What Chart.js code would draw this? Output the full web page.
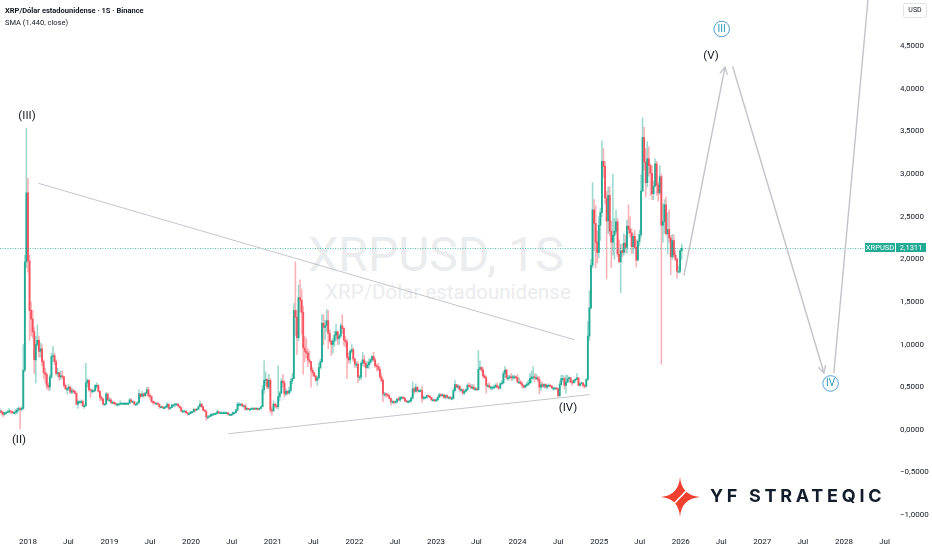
<!DOCTYPE html>
<html>
<head>
<meta charset="utf-8">
<title>XRPUSD 1S</title>
<script src="https://cdn.jsdelivr.net/npm/chart.js@4.4.1/dist/chart.umd.min.js"></script>
<style>
	html, body { margin: 0; padding: 0; background: #fff; }
	#wrap { position: relative; width: 932px; height: 550px; overflow: hidden; font-family: Roboto, "Noto Sans", sans-serif; }
	#chart { position: absolute; left: 0; top: 0; z-index: 2; }
	.wm { position: absolute; left: 0; text-align: center; color: #ebecee; white-space: nowrap; z-index: 1; }
	#wm1 { top: 227px; width: 872px; font-size: 48px; line-height: 56px; }
	#wm2 { top: 280px; width: 896px; font-size: 20.5px; line-height: 24px; }
	.head { position: absolute; left: 5px; font-size: 7.5px; color: #131722; z-index: 3; white-space: nowrap; }
	#head1 { top: 6px; font-weight: 700; }
	#head2 { top: 18px; }
	#logo { position: absolute; left: 660px; top: 476px; width: 240px; height: 42px; z-index: 3; }
	#logo span { position: absolute; left: 50px; top: 9px; font-family: Inter, Roboto, sans-serif; font-weight: 700; font-size: 18px; letter-spacing: 3.7px; color: #131c2b; white-space: nowrap; }
</style>
</head>
<body>
<div id="wrap">
	<div class="wm" id="wm1">XRPUSD, 1S</div>
	<div class="wm" id="wm2">XRP/Dólar estadounidense</div>
	<canvas id="chart" width="932" height="550"></canvas>
	<div class="head" id="head1">XRP/Dólar estadounidense · 1S · Binance</div>
	<div class="head" id="head2">SMA (1.440, close)</div>
	<div id="logo">
		<svg width="46" height="42" viewBox="0 0 46 42">
			<path d="M20,1 Q21.5,19.5 40,21 Q21.5,22.5 20,41 Q18.5,22.5 1,21 Q18.5,19.5 20,1 Z" fill="#f0402f" />
			<line x1="11" y1="31" x2="29" y2="12" stroke="#fff" stroke-width="1.8" />
		</svg>
		<span>YF STRATEQIC</span>
	</div>
</div>

<script>
// weekly candles, first week starts Monday 28 Aug 2017, last one 5 Jan 2026
const firstOpen = 0.21;

const closes = [
	// 2017
	.22, .20, .18, .20, .20, .21, .22, .21, .20, .20, .21, .23, .25, .24, .25, .70, 1.97, 2.78,
	// 2018
	1.98, 1.40, 1.30, 1.15, .82, 1.00, 1.05, .92, .95, .80, .67, .65, .52, .50, .62, .86, .87, .80, .66, .67, .62, .63, .62, .52, .48, .48,
	.50, .44, .46, .45, .43, .30, .33, .33, .33, .28, .28, .55, .58, .47, .46, .46, .46, .52, .52, .45, .38, .36, .30, .30, .42, .35,
	// 2019
	.35, .32, .32, .31, .30, .30, .30, .31, .31, .31, .31, .31, .31, .35, .33, .33, .30, .30, .32, .42, .39, .42, .40, .43, .47, .40,
	.39, .33, .32, .31, .31, .30, .27, .27, .26, .26, .27, .30, .25, .26, .29, .29, .30, .30, .28, .26, .22, .22, .22, .20, .19, .19,
	// 2020
	.21, .21, .24, .23, .24, .27, .30, .27, .23, .22, .15, .15, .16, .18, .18, .19, .19, .21, .20, .20, .20, .20, .20, .20, .18, .18,
	.18, .20, .20, .23, .30, .30, .30, .28, .28, .24, .25, .24, .24, .25, .25, .24, .25, .24, .25, .27, .47, .58, .59, .50, .58, .23,
	// 2021
	.22, .30, .28, .27, .39, .43, .57, .55, .42, .45, .43, .46, .57, .60, 1.40, 1.32, 1.08, 1.55, 1.52, 1.38, .96, .92, .90, .82, .80, .70,
	.67, .63, .58, .61, .73, .80, 1.25, 1.20, 1.22, 1.28, 1.13, 1.04, 1.00, 1.04, 1.11, 1.15, 1.07, 1.10, 1.22, 1.19, 1.05, 1.03, .85, .82, .92, .94,
	// 2022
	.83, .77, .77, .62, .62, .78, .82, .78, .73, .76, .79, .82, .86, .82, .75, .74, .71, .62, .58, .42, .42, .41, .40, .37, .33, .33,
	.32, .33, .36, .35, .38, .38, .37, .34, .33, .33, .34, .37, .48, .45, .50, .46, .46, .46, .37, .38, .38, .40, .39, .38, .35, .35,
	// 2023
	.34, .35, .38, .41, .40, .41, .38, .40, .38, .38, .37, .37, .46, .53, .50, .51, .47, .47, .43, .45, .47, .52, .51, .50, .50, .48,
	.48, .47, .71, .73, .70, .63, .61, .52, .52, .50, .50, .50, .50, .52, .50, .49, .54, .55, .66, .70, .61, .61, .62, .61, .62, .62,
	// 2024
	.61, .56, .56, .54, .52, .50, .52, .53, .55, .60, .62, .62, .61, .61, .59, .50, .53, .51, .53, .50, .52, .52, .51, .49, .49, .49,
	.48, .40, .53, .60, .60, .52, .56, .60, .61, .56, .55, .58, .59, .61, .52, .54, .55, .52, .51, .59, 1.10, 1.43, 1.93, 2.58, 2.42, 2.20,
	// 2025 + Jan 2026
	2.08, 2.40, 2.55, 3.15, 3.09, 2.72, 2.45, 2.75, 2.33, 2.20, 2.28, 2.33, 2.44, 2.06, 1.97, 2.10, 2.08, 2.19, 2.14, 2.39, 2.35, 2.31, 2.15, 2.27, 2.14, 1.99, 2.21,
	2.29, 2.80, 3.43, 3.14, 2.90, 3.18, 3.10, 3.01, 2.77, 2.86, 3.12, 2.87, 2.78, 2.97, 2.40, 2.44, 2.64, 2.30, 2.35, 2.25, 2.03, 2.22, 2.05, 2.00, 1.86, 1.86, 2.10, 2.1311,
];

const highs = [
	.25, .23, .21, .21, .21, .23, .25, .22, .22, .21, .24, .25, .27, .26, .27, 1.00, 2.05, 3.54,
	2.95, 2.05, 1.50, 1.40, 1.20, 1.10, 1.23, 1.10, 1.02, 1.00, .82, .72, .67, .55, .65, .90, .98, .90, .82, .72, .67, .69, .69, .63, .54, .50,
	.53, .51, .49, .48, .46, .43, .35, .34, .35, .35, .30, .78, .60, .59, .48, .48, .47, .53, .55, .53, .46, .40, .37, .31, .44, .43,
	.38, .37, .34, .33, .32, .31, .31, .34, .32, .32, .32, .32, .32, .37, .36, .34, .33, .31, .33, .47, .42, .45, .43, .44, .50, .50,
	.42, .40, .34, .33, .32, .32, .30, .28, .27, .27, .28, .32, .30, .26, .30, .30, .31, .31, .31, .28, .26, .23, .23, .22, .20, .20,
	.22, .22, .25, .24, .25, .28, .34, .31, .28, .24, .22, .17, .17, .19, .19, .19, .20, .23, .22, .21, .21, .21, .21, .21, .20, .19,
	.19, .21, .21, .24, .32, .32, .31, .31, .29, .30, .26, .25, .25, .26, .26, .26, .26, .25, .26, .28, .52, .81, .68, .60, .65, .60,
	.26, .34, .31, .30, .75, .45, .60, .65, .58, .48, .46, .50, .60, .66, 1.48, 1.97, 1.40, 1.70, 1.76, 1.65, 1.45, 1.10, 1.07, .95, .92, .80,
	.73, .68, .64, .63, .78, .83, 1.35, 1.35, 1.28, 1.41, 1.40, 1.17, 1.05, 1.07, 1.16, 1.24, 1.16, 1.12, 1.25, 1.35, 1.20, 1.10, 1.06, .90, .94, 1.00,
	.96, .84, .80, .80, .64, .80, .91, .87, .80, .80, .83, .84, .87, .91, .84, .77, .78, .74, .66, .60, .44, .43, .43, .41, .37, .35,
	.34, .34, .37, .39, .39, .39, .39, .38, .34, .34, .35, .39, .56, .50, .54, .50, .47, .48, .51, .40, .39, .41, .41, .40, .38, .36,
	.36, .36, .40, .43, .42, .42, .41, .41, .41, .39, .39, .39, .49, .58, .53, .53, .52, .49, .48, .47, .48, .54, .55, .53, .53, .53,
	.50, .49, .93, .81, .74, .73, .65, .63, .54, .55, .51, .51, .52, .54, .55, .51, .55, .58, .69, .74, .71, .64, .64, .66, .64, .64,
	.63, .65, .61, .58, .56, .51, .53, .56, .58, .66, .69, .74, .66, .65, .63, .62, .56, .56, .54, .54, .53, .54, .53, .52, .50, .50,
	.49, .48, .57, .64, .64, .62, .64, .64, .62, .61, .58, .59, .60, .66, .61, .55, .56, .55, .53, .60, 1.27, 1.63, 2.00, 2.90, 2.70, 2.63,
	2.33, 2.50, 2.60, 3.39, 3.30, 3.15, 2.80, 2.85, 2.85, 2.45, 3.00, 2.48, 2.58, 2.48, 2.23, 2.18, 2.18, 2.30, 2.28, 2.46, 2.64, 2.50, 2.36, 2.30, 2.34, 2.23, 2.23,
	2.34, 2.99, 3.66, 3.55, 3.30, 3.38, 3.32, 3.12, 3.10, 2.92, 3.18, 3.15, 2.90, 3.10, 3.00, 2.65, 2.70, 2.73, 2.55, 2.58, 2.28, 2.29, 2.29, 2.10, 2.02, 1.92, 2.12, 2.18,
];

const lows = [
	.20, .18, .15, .17, .19, .20, .20, .19, .19, .19, .18, .19, .22, .01, .22, .24, .68, 1.90,
	1.85, 1.05, 1.10, 1.08, .66, .55, .98, .85, .85, .75, .60, .55, .48, .46, .46, .60, .80, .76, .64, .62, .58, .59, .60, .50, .47, .42,
	.46, .43, .42, .43, .42, .29, .25, .31, .31, .27, .25, .28, .50, .45, .38, .43, .44, .45, .49, .44, .34, .34, .29, .29, .30, .34,
	.34, .31, .31, .30, .29, .28, .29, .30, .30, .30, .30, .30, .30, .31, .32, .32, .29, .29, .29, .31, .37, .39, .38, .39, .42, .38,
	.36, .32, .29, .31, .30, .29, .25, .26, .25, .25, .25, .26, .23, .24, .26, .28, .27, .29, .27, .25, .21, .20, .21, .19, .17, .18,
	.19, .20, .21, .21, .23, .24, .27, .26, .22, .21, .11, .13, .15, .16, .17, .17, .18, .19, .19, .19, .19, .19, .19, .19, .17, .17,
	.17, .17, .19, .20, .22, .28, .28, .27, .27, .23, .23, .23, .23, .24, .24, .24, .24, .23, .23, .25, .27, .43, .52, .48, .48, .20,
	.17, .22, .26, .25, .24, .34, .42, .50, .38, .40, .41, .42, .44, .54, .60, 1.10, .88, 1.04, 1.38, 1.12, .65, .80, .84, .74, .78, .50,
	.63, .62, .57, .52, .59, .71, .79, 1.00, 1.06, 1.15, .95, 1.02, .87, .90, .98, 1.05, 1.00, 1.00, 1.08, 1.13, .99, .97, .60, .78, .78, .90,
	.80, .73, .73, .55, .58, .59, .75, .74, .62, .72, .72, .77, .80, .80, .73, .69, .69, .60, .56, .33, .39, .38, .39, .36, .29, .31,
	.30, .31, .31, .34, .33, .36, .36, .33, .32, .32, .32, .32, .36, .42, .44, .44, .44, .45, .32, .35, .37, .37, .38, .37, .34, .34,
	.33, .33, .34, .38, .39, .39, .37, .36, .37, .36, .36, .35, .36, .45, .49, .48, .45, .45, .42, .41, .44, .46, .50, .48, .48, .47,
	.46, .46, .46, .71, .68, .61, .60, .43, .50, .49, .47, .47, .49, .50, .49, .47, .48, .53, .54, .62, .59, .58, .60, .58, .58, .60,
	.59, .55, .54, .53, .49, .49, .49, .51, .52, .54, .55, .59, .56, .59, .56, .42, .46, .50, .49, .49, .48, .51, .51, .48, .46, .47,
	.47, .38, .39, .52, .57, .48, .43, .55, .56, .55, .52, .55, .56, .59, .52, .51, .53, .50, .49, .50, .58, 1.05, 1.42, 1.90, 2.10, 1.90,
	1.96, 2.02, 2.22, 2.50, 2.96, 2.65, 1.77, 2.30, 2.28, 1.90, 2.05, 2.00, 2.30, 2.03, 1.96, 1.61, 2.03, 2.05, 2.08, 2.07, 2.30, 2.26, 2.07, 2.07, 2.12, 1.91, 2.03,
	2.16, 2.26, 2.80, 3.05, 2.73, 2.85, 2.98, 2.75, 2.70, 2.70, 2.85, 2.75, 2.68, 2.76, 0.77, 2.20, 2.30, 2.28, 2.06, 2.20, 1.82, 2.00, 2.02, 1.98, 1.78, 1.84, 1.84, 2.00,
];

const priceTicks = [-1, -0.5, 0, 0.5, 1, 1.5, 2, 2.5, 3, 3.5, 4, 4.5];
const tickYears = [2018, 2019, 2020, 2021, 2022, 2023, 2024, 2025, 2026, 2027, 2028];
const lastPrice = 2.1311;
const symbol = "XRPUSD";

// drawings, as [year fraction, price]
const triangleTop = [[2018.126, 2.893], [2024.703, 1.054]];
const triangleBottom = [[2020.455, -0.047], [2024.887, 0.413]];
const projection = [
	[[2026.039, 1.81], [2026.542, 4.254]],
	[[2026.636, 4.262], [2027.755, 0.668]],
	[[2027.877, 0.665], [2028.33, 5.42]],
];
const waveLabels = [
	{ text: "(III)", at: [2017.988, 3.675] },
	{ text: "(II)", at: [2017.89, -0.126] },
	{ text: "(IV)", at: [2024.618, 0.251] },
	{ text: "(V)", at: [2026.37, 4.38] },
];
const circledLabels = [
	{ text: "III", at: [2026.501, 4.703] },
	{ text: "IV", at: [2027.837, 0.543] },
];

const GREEN = "#22ab94";
const RED = "#f7525f";
const GREEN_WICK = "rgba(34,171,148,0.45)";
const RED_WICK = "rgba(247,82,95,0.45)";
const GRAY_LINE = "#c4c6cc";
const FONT = "Roboto, 'Noto Sans', sans-serif";

function yearToMs(yf) {
	const y = Math.floor(yf);
	const a = Date.UTC(y, 0, 1);
	const b = Date.UTC(y + 1, 0, 1);
	return a + (yf - y) * (b - a);
}

const weekStart = Date.UTC(2017, 7, 28);
const WEEK = 7 * 86400000;
const opens = closes.map((c, i) => (i === 0 ? firstOpen : closes[i - 1]));
const isUp = closes.map((c, i) => c >= opens[i]);

const bodies = closes.map((c, i) => ({ x: weekStart + i * WEEK, y: [opens[i], c] }));
const wicks = closes.map((c, i) => ({
	x: weekStart + i * WEEK,
	y: [Math.min(lows[i], opens[i], c), Math.max(highs[i], opens[i], c)],
}));

const xTickValues = [];
tickYears.forEach((y) => {
	xTickValues.push(Date.UTC(y, 0, 1));
	xTickValues.push(Date.UTC(y, 6, 1));
});

function fmtPrice(v) {
	const s = Math.abs(v).toFixed(4).replace(".", ",");
	return v < 0 ? "\u2212" + s : s;
}

/*######################################*
||           Chart drawings           ||
*######################################*/

const drawings = {
	id: "drawings",
	afterDatasetsDraw(chart) {
		const { ctx, chartArea: area, scales } = chart;
		const px = (p) => [scales.x.getPixelForValue(yearToMs(p[0])), scales.y.getPixelForValue(p[1])];

		ctx.save();
		ctx.beginPath();
		ctx.rect(area.left, area.top, area.right - area.left, area.bottom - area.top);
		ctx.clip();

		// last price line
		const yLast = scales.y.getPixelForValue(lastPrice);
		ctx.strokeStyle = "rgba(34,171,148,0.75)";
		ctx.lineWidth = 1;
		ctx.setLineDash([1, 1.5]);
		ctx.beginPath();
		ctx.moveTo(area.left, Math.round(yLast) + 0.5);
		ctx.lineTo(area.right - 30, Math.round(yLast) + 0.5);
		ctx.stroke();
		ctx.setLineDash([]);

		// triangle
		ctx.strokeStyle = GRAY_LINE;
		ctx.lineWidth = 1;
		[triangleTop, triangleBottom].forEach((seg) => {
			const a = px(seg[0]);
			const b = px(seg[1]);
			ctx.beginPath();
			ctx.moveTo(a[0], a[1]);
			ctx.lineTo(b[0], b[1]);
			ctx.stroke();
		});

		// projected path with arrow heads
		ctx.strokeStyle = "#c2c4c9";
		ctx.lineWidth = 1.4;
		projection.forEach((seg, k) => {
			const a = px(seg[0]);
			const b = px(seg[1]);
			ctx.beginPath();
			ctx.moveTo(a[0], a[1]);
			ctx.lineTo(b[0], b[1]);
			ctx.stroke();
			if (k < 2) {
				const ang = Math.atan2(b[1] - a[1], b[0] - a[0]);
				ctx.beginPath();
				ctx.moveTo(b[0] - 8 * Math.cos(ang - 0.5), b[1] - 8 * Math.sin(ang - 0.5));
				ctx.lineTo(b[0], b[1]);
				ctx.lineTo(b[0] - 8 * Math.cos(ang + 0.5), b[1] - 8 * Math.sin(ang + 0.5));
				ctx.stroke();
			}
		});

		// wave labels
		ctx.fillStyle = "#131722";
		ctx.font = "11.5px " + FONT;
		ctx.textAlign = "center";
		ctx.textBaseline = "middle";
		waveLabels.forEach((l) => {
			const p = px(l.at);
			ctx.fillText(l.text, p[0], p[1]);
		});

		circledLabels.forEach((l) => {
			const p = px(l.at);
			ctx.beginPath();
			ctx.arc(p[0], p[1], 7.8, 0, Math.PI * 2);
			ctx.fillStyle = "#fff";
			ctx.fill();
			ctx.strokeStyle = "#4f9fd6";
			ctx.lineWidth = 1;
			ctx.stroke();
			ctx.fillStyle = "#2a98b8";
			ctx.font = "10px " + FONT;
			ctx.fillText(l.text, p[0], p[1] + 0.5);
		});

		ctx.restore();
	},
	afterDraw(chart) {
		const { ctx, chartArea: area, scales } = chart;
		const yLast = Math.round(scales.y.getPixelForValue(lastPrice));
		ctx.save();
		ctx.font = "7.5px " + FONT;
		ctx.textBaseline = "middle";
		ctx.textAlign = "center";

		// symbol + last price tags
		ctx.fillStyle = GREEN;
		ctx.fillRect(area.right - 30, yLast - 5, 30, 9);
		ctx.fillRect(area.right + 1, yLast - 5, 30, 9);
		ctx.fillStyle = "#fff";
		ctx.fillText(symbol, area.right - 15, yLast);
		ctx.fillText(fmtPrice(lastPrice), area.right + 16, yLast);

		// currency box
		ctx.strokeStyle = "#e0e3eb";
		ctx.lineWidth = 1;
		ctx.beginPath();
		ctx.roundRect(903.5, 3.5, 23, 14, 2);
		ctx.stroke();
		ctx.fillStyle = "#131722";
		ctx.font = "7px " + FONT;
		ctx.fillText("USD", 915, 10.5);
		ctx.restore();
	},
};

/*######################################*
||            Candle chart            ||
*######################################*/

new Chart(document.getElementById("chart"), {
	type: "bar",
	data: {
		datasets: [
			{
				label: "body",
				data: bodies,
				backgroundColor: isUp.map((u) => (u ? GREEN : RED)),
				barThickness: 1.2,
				minBarLength: 1,
				grouped: false,
				order: 1,
			},
			{
				label: "wick",
				data: wicks,
				backgroundColor: isUp.map((u) => (u ? GREEN_WICK : RED_WICK)),
				barThickness: 0.9,
				grouped: false,
				order: 2,
			},
		],
	},
	options: {
		responsive: false,
		animation: false,
		layout: { padding: 0 },
		plugins: {
			legend: { display: false },
			tooltip: { enabled: false },
		},
		scales: {
			x: {
				type: "linear",
				min: yearToMs(2017.657),
				max: yearToMs(2028.625),
				offset: false,
				grid: { display: false, drawTicks: false },
				border: { display: false },
				ticks: {
					autoSkip: false,
					maxRotation: 0,
					padding: 5,
					color: "#131722",
					font: { size: 8, family: FONT },
					callback: (v) => {
						const d = new Date(v);
						return d.getUTCMonth() === 0 ? String(d.getUTCFullYear()) : "Jul";
					},
				},
				afterBuildTicks: (scale) => {
					scale.ticks = xTickValues.map((v) => ({ value: v }));
				},
				afterFit: (scale) => {
					scale.height = 18;
					scale.paddingLeft = 0;
					scale.paddingRight = 0;
				},
			},
			y: {
				position: "right",
				min: -1.2,
				max: 5.043,
				grid: { display: false, drawTicks: false },
				border: { display: false },
				ticks: {
					padding: 5,
					crossAlign: "near",
					color: "#131722",
					font: { size: 8, family: FONT },
					callback: (v) => fmtPrice(v),
				},
				afterBuildTicks: (scale) => {
					scale.ticks = priceTicks.map((v) => ({ value: v }));
				},
				afterFit: (scale) => {
					scale.width = 37;
					scale.paddingTop = 0;
					scale.paddingBottom = 0;
				},
			},
		},
	},
	plugins: [drawings],
});
</script>
</body>
</html>
